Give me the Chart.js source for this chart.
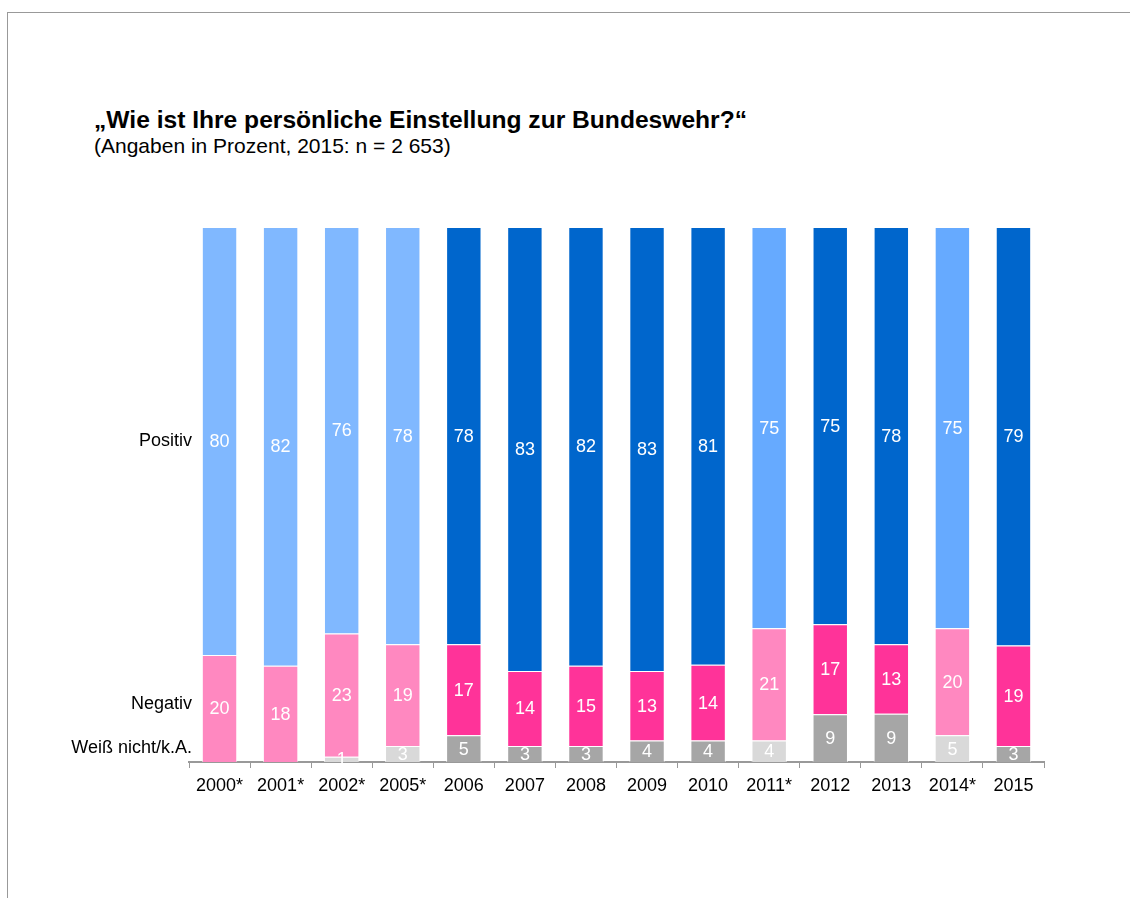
<!DOCTYPE html>
<html>
<head>
<meta charset="utf-8">
<script src="https://cdn.jsdelivr.net/npm/chart.js@4.4.1/dist/chart.umd.min.js"></script>
<style>
  html, body { margin: 0; padding: 0; background: #fff; }
  body { width: 1130px; height: 898px; position: relative; overflow: hidden; font-family: "Liberation Sans", Arial, sans-serif; }
  #frame { position: absolute; left: 7px; top: 12px; width: 1140px; height: 900px; border-left: 1px solid #999; border-top: 1px solid #999; }
  #title { position: absolute; left: 94px; top: 106px; font-size: 24.6px; font-weight: bold; color: #000; white-space: nowrap; }
  #subtitle { position: absolute; left: 94px; top: 134px; font-size: 21px; color: #000; white-space: nowrap; }
  #wrap { position: absolute; left: 0; top: 0; width: 1130px; height: 898px; }
</style>
</head>
<body>
<div id="frame"></div>
<div id="title">„Wie ist Ihre persönliche Einstellung zur Bundeswehr?“</div>
<div id="subtitle">(Angaben in Prozent, 2015: n = 2 653)</div>
<div id="wrap"><canvas id="myChart"></canvas></div>
<script>
// categories and values (percent)
const years = ['2000*', '2001*', '2002*', '2005*', '2006', '2007', '2008', '2009', '2010', '2011*', '2012', '2013', '2014*', '2015'];
const positiv = [80, 82, 76, 78, 78, 83, 82, 83, 81, 75, 75, 78, 75, 79];
const negativ = [20, 18, 23, 19, 17, 14, 15, 13, 14, 21, 17, 13, 20, 19];
const weissNicht = [0, 0, 1, 3, 5, 3, 3, 4, 4, 4, 9, 9, 5, 3];

// bars are drawn full height (share of each year's total)
function share(arr) {
    return arr.map((v, i) => v / (positiv[i] + negativ[i] + weissNicht[i]) * 100);
}

function colorsFor(early, starred, normal) {
    return years.map(y => {
        if (parseInt(y) < 2006) return early;
        return y.indexOf('*') >= 0 ? starred : normal;
    });
}

// draws the numbers into the segments
const valueLabels = {
    id: 'valueLabels',
    afterDatasetsDraw(chart) {
        const ctx = chart.ctx;
        ctx.save();
        ctx.font = '18px "Liberation Sans", Arial, sans-serif';
        ctx.fillStyle = '#fff';
        ctx.textAlign = 'center';
        ctx.textBaseline = 'middle';
        chart.data.datasets.forEach((ds, di) => {
            chart.getDatasetMeta(di).data.forEach((bar, i) => {
                const v = ds.raw[i];
                if (!v) return;
                const y = (bar.y + bar.base) / 2;
                ctx.fillText(v, bar.x, y + 1);
            });
        });
        ctx.restore();
    }
};

// series names to the left of the first bar
const sideLabels = {
    id: 'sideLabels',
    afterDraw(chart) {
        const ctx = chart.ctx;
        const yScale = chart.scales.y;
        const x = chart.chartArea.left + 3;
        ctx.save();
        ctx.font = '18px "Liberation Sans", Arial, sans-serif';
        ctx.fillStyle = '#000';
        ctx.textAlign = 'right';
        ctx.textBaseline = 'middle';
        ctx.fillText('Positiv', x, yScale.getPixelForValue(60));
        ctx.fillText('Negativ', x, yScale.getPixelForValue(10.9));
        ctx.fillText('Weiß nicht/k.A.', x, yScale.getPixelForValue(2.6));
        ctx.restore();
    }
};

var ctx = document.getElementById('myChart').getContext('2d');
var chart = new Chart(ctx, {
    type: 'bar',
    data: {
        labels: years,
        datasets: [{
            label: 'Weiß nicht/k.A.',
            data: share(weissNicht),
            raw: weissNicht,
            backgroundColor: colorsFor('#d9d9d9', '#d9d9d9', '#a6a6a6'),
            borderColor: 'rgba(255,255,255,0.7)',
            borderWidth: 1
        }, {
            label: 'Negativ',
            data: share(negativ),
            raw: negativ,
            backgroundColor: colorsFor('#ff88c0', '#ff88c0', '#ff3399'),
            borderColor: 'rgba(255,255,255,0.7)',
            borderWidth: 1
        }, {
            label: 'Positiv',
            data: share(positiv),
            raw: positiv,
            backgroundColor: colorsFor('#80b8ff', '#66aaff', '#0066cc'),
            borderColor: 'rgba(255,255,255,0.7)',
            borderWidth: 1
        }]
    },
    options: {
        responsive: true,
        maintainAspectRatio: false,
        animation: false,
        events: [],
        barPercentage: 0.58,
        categoryPercentage: 1,
        layout: { padding: { left: 189, right: 86, top: 227, bottom: 86 } },
        plugins: {
            legend: { display: false },
            tooltip: { enabled: false }
        },
        scales: {
            x: {
                stacked: true,
                border: { display: true, color: '#999', width: 2 },
                grid: { drawOnChartArea: false, drawTicks: true, tickLength: 6, color: '#999', offset: true },
                ticks: {
                    color: '#000',
                    font: { family: '"Liberation Sans", Arial, sans-serif', size: 18 },
                    padding: 7,
                    maxRotation: 0,
                    autoSkip: false
                },
                afterFit: function(scale) { scale.height = 50; }
            },
            y: {
                stacked: true,
                display: false,
                min: 0,
                max: 100
            }
        }
    },
    plugins: [valueLabels, sideLabels]
});
</script>
</body>
</html>
